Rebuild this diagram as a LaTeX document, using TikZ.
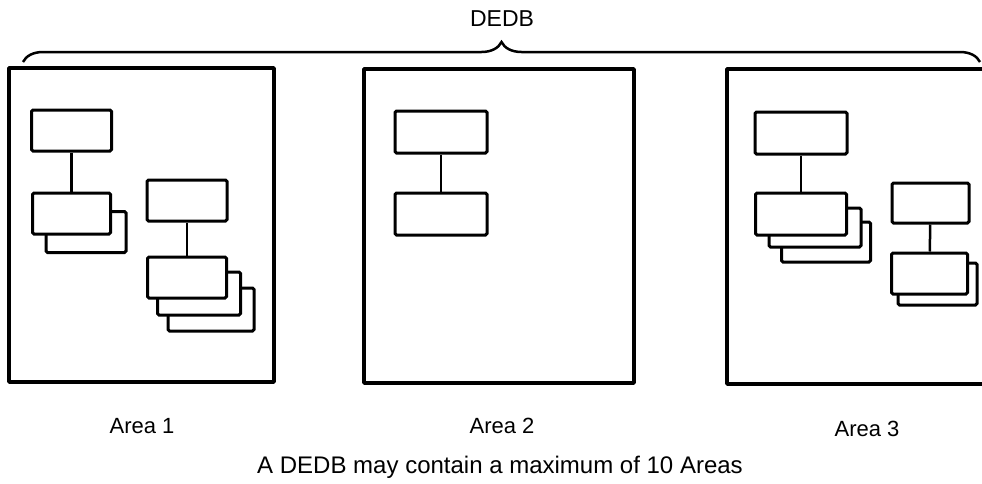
\documentclass[tikz,border=0pt]{standalone}
\usepackage{fontspec}
\setmainfont{Liberation Sans}
\usetikzlibrary{decorations.pathreplacing,positioning}

\begin{document}
\begin{tikzpicture}[x=1pt,y=-1pt]

\tikzset{frame/.style = {draw,line width=3.5pt,line join=round}}
\tikzset{seg/.style = {shape=rectangle,draw,fill=white,line width=3pt,rounded corners=1.5pt,inner sep=0pt,minimum width=80pt,minimum height=41pt}}
\tikzset{wseg/.style = {seg,minimum width=92pt,minimum height=42pt}}
\tikzset{link/.style = {line width=2.5pt}}
\tikzset{lab/.style = {anchor=base,font=\fontsize{22}{26}\selectfont}}

\useasboundingbox (0,0) rectangle (982,483);
\clip (0,0) rectangle (982,483);

% brace
\coordinate (bl) at (23,62);
\coordinate (br) at (980,62);
\draw[line width=2.5pt,decorate,decoration={brace,amplitude=20pt}] (bl) -- (br);
\node[anchor=base,font=\fontsize{23}{27}\selectfont] (dedb) at (502,26) {DEDB};

% areas
\draw[frame] (9,68) rectangle (274,382);
\draw[frame] (364,69) rectangle (634,383);
\draw[frame] (727,69) rectangle (995,384);

% area 1
\node[seg] (a1) at (71.5,130.5) {};
\node[seg] (b1s) at (86,232) {};
\node[seg,minimum width=78pt] (b1) at (71.5,213.5) {};
\node[seg] (c1) at (187,200.5) {};
\node[seg,minimum width=86pt,minimum height=43pt] (d1t) at (211,309.5) {};
\node[seg,minimum width=83pt,minimum height=43pt] (d1s) at (199,293.5) {};
\node[seg,minimum width=79pt] (d1) at (187,277.5) {};
\draw[link] (a1) -- (b1);
\draw[link] (c1) -- (d1);

% area 2
\node[wseg] (a2) at (441,132) {};
\node[wseg] (b2) at (441,214) {};
\draw[link] (a2) -- (b2);

% area 3
\node[wseg] (a3) at (801,133) {};
\node[wseg,minimum width=89pt,minimum height=40pt] (b3t) at (826,242) {};
\node[wseg,minimum height=39pt] (b3s) at (815,227.5) {};
\node[wseg,minimum width=91pt] (b3) at (801,214) {};
\node[seg,minimum width=77pt,minimum height=40pt] (c3) at (930.5,203) {};
\node[seg,minimum width=79pt,minimum height=42pt] (d3s) at (937.5,284) {};
\node[seg,minimum width=76pt] (d3) at (929.5,273.5) {};
\draw[link] (a3) -- (b3);
\draw[link] (c3) -- (d3);

% labels
\node[lab] (l1) at (142,433) {Area 1};
\node[lab] (l2) at (502,433) {Area 2};
\node[lab] (l3) at (867,436) {Area 3};
\node[anchor=base,font=\fontsize{24}{28}\selectfont] (cap) at (500,473) {A DEDB may contain a maximum of 10 Areas};

\end{tikzpicture}
\end{document}
